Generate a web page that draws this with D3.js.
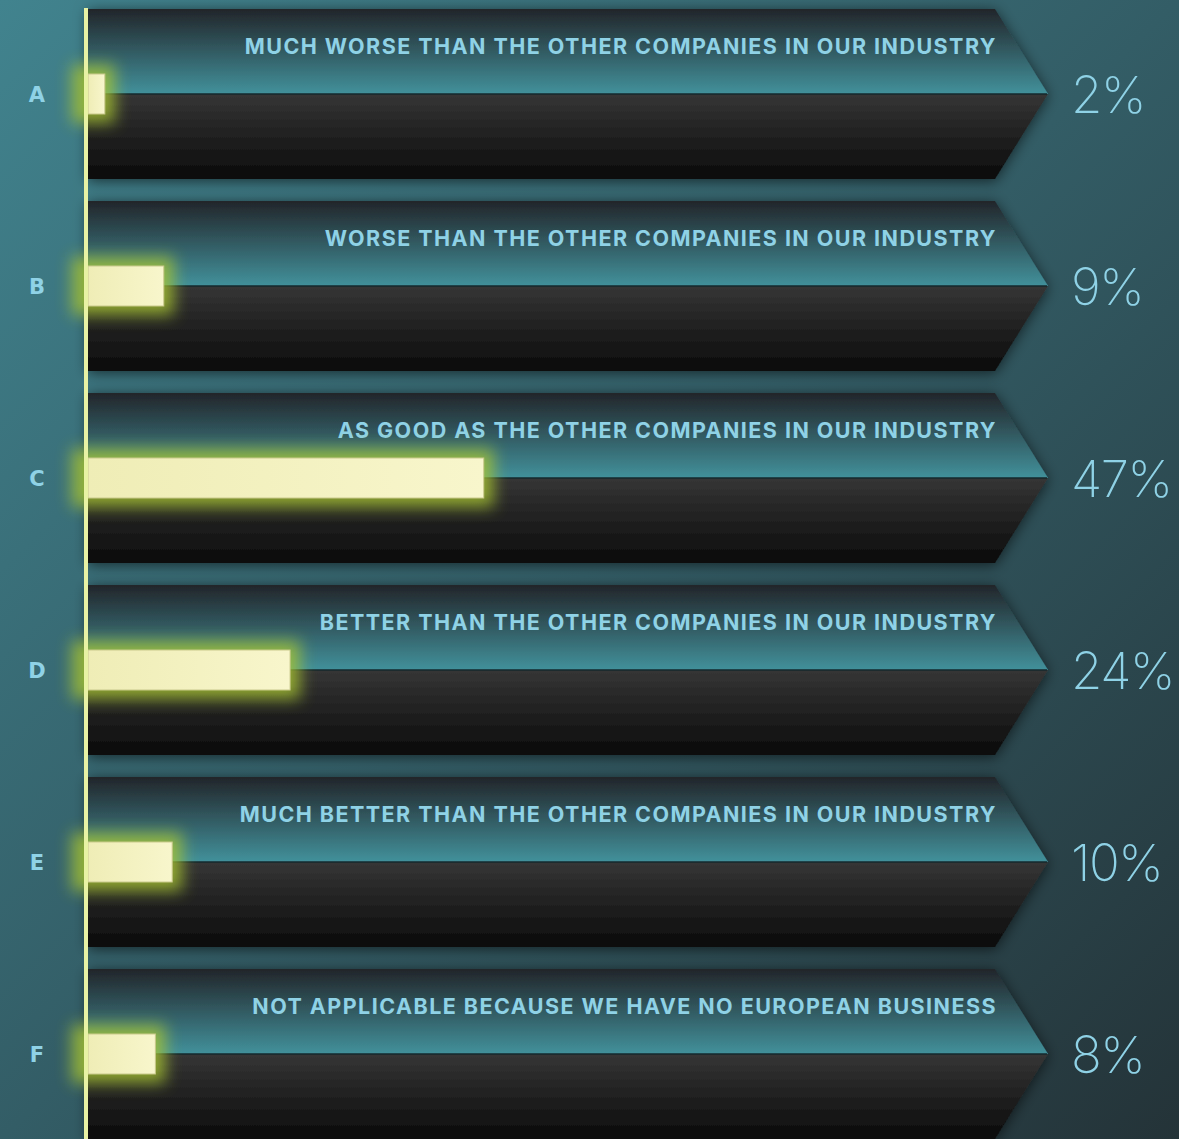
<!DOCTYPE html>
<html><head><meta charset="utf-8">
<script src="https://cdn.jsdelivr.net/npm/d3@7"></script>
<style>
html,body{margin:0;padding:0;background:#2c4d55;}
svg{display:block;}
</style></head>
<body>
<script>
const letters = ["A","B","C","D","E","F"];
const categories = [
  "MUCH WORSE THAN THE OTHER COMPANIES IN OUR INDUSTRY",
  "WORSE THAN THE OTHER COMPANIES IN OUR INDUSTRY",
  "AS GOOD AS THE OTHER COMPANIES IN OUR INDUSTRY",
  "BETTER THAN THE OTHER COMPANIES IN OUR INDUSTRY",
  "MUCH BETTER THAN THE OTHER COMPANIES IN OUR INDUSTRY",
  "NOT APPLICABLE BECAUSE WE HAVE NO EUROPEAN BUSINESS"
];
const values = [2, 9, 47, 24, 10, 8];
const valueLabels = ["2%", "9%", "47%", "24%", "10%", "8%"];

const W = 1179, H = 1139;
const svg = d3.select("body").append("svg").attr("width", W).attr("height", H);
const defs = svg.append("defs");

const bg = defs.append("linearGradient").attr("id","bg").attr("x1","0").attr("y1","0").attr("x2","1").attr("y2","1");
bg.append("stop").attr("offset","0%").attr("stop-color","#41838e");
bg.append("stop").attr("offset","50%").attr("stop-color","#335d66");
bg.append("stop").attr("offset","100%").attr("stop-color","#243338");

const topG = defs.append("linearGradient").attr("id","topG").attr("x1","0").attr("y1","0").attr("x2","0").attr("y2","1");
topG.append("stop").attr("offset","0%").attr("stop-color","#22252a");
topG.append("stop").attr("offset","100%").attr("stop-color","#42919b");

const botG = defs.append("linearGradient").attr("id","botG").attr("x1","0").attr("y1","0").attr("x2","0").attr("y2","1");
botG.append("stop").attr("offset","0%").attr("stop-color","#353535");
botG.append("stop").attr("offset","100%").attr("stop-color","#0b0b0b");

const barG = defs.append("linearGradient").attr("id","barG").attr("x1","0").attr("y1","0").attr("x2","1").attr("y2","0");
barG.append("stop").attr("offset","0%").attr("stop-color","#efedb6");
barG.append("stop").attr("offset","100%").attr("stop-color","#f8f6cc");

const sh = defs.append("filter").attr("id","shadow").attr("x","-10%").attr("y","-30%").attr("width","120%").attr("height","160%");
sh.append("feDropShadow").attr("dx",0).attr("dy",2).attr("stdDeviation",7).attr("flood-color","#000").attr("flood-opacity",0.6);

const glow = defs.append("filter").attr("id","glow").attr("x","-100%").attr("y","-100%").attr("width","300%").attr("height","300%");
glow.append("feGaussianBlur").attr("stdDeviation",8);

svg.append("rect").attr("width",W).attr("height",H).attr("fill","url(#bg)");

const y = d3.scaleBand().domain(letters).range([9, 1139]).paddingInner(0.1146).paddingOuter(0);
const x = d3.scaleLinear().domain([0, 100]).range([88, 930]);
const xEnd = 995, xTip = 1048;

const rows = svg.selectAll("g.row").data(letters).join("g").attr("class","row");

rows.each(function(d, i) {
  const g = d3.select(this);
  const t = y(d), b = t + y.bandwidth(), m = (t + b) / 2;
  const shape = g.append("g").attr("filter","url(#shadow)");
  shape.append("path")
    .attr("d", `M${x(0)},${t}L${xEnd},${t}L${xTip},${m}L${x(0)},${m}Z`)
    .attr("fill","url(#topG)");
  shape.append("path")
    .attr("d", `M${x(0)},${m}L${xTip},${m}L${xEnd},${b}L${x(0)},${b}Z`)
    .attr("fill","url(#botG)");
  g.append("line").attr("x1",x(0)).attr("x2",xTip - 1).attr("y1",m).attr("y2",m)
    .attr("stroke","#14292d").attr("stroke-width",1.5);

  g.append("text").attr("x",997).attr("y",t+45)
    .attr("text-anchor","end")
    .attr("font-family","Inter, 'Open Sans', sans-serif")
    .attr("font-weight",700).attr("font-size",21.5)
    .attr("letter-spacing",1.45)
    .attr("fill","#8fd2e6").text(categories[i]);

  g.append("text").attr("x",1071).attr("y",m+19)
    .attr("font-family","Inter, Lato, sans-serif")
    .attr("font-weight",200).attr("font-size",51)
    .attr("letter-spacing",-1.5)
    .attr("fill","#8fd2e6").text(valueLabels[i]);

  g.append("text").attr("x",37).attr("y",m+8)
    .attr("text-anchor","middle")
    .attr("font-family","'DejaVu Sans', sans-serif")
    .attr("font-weight",700).attr("font-size",21)
    .attr("fill","#8fd2e6").text(d);

  const bh = 40;
  g.append("rect").attr("x",x(0)-16).attr("y",m-bh/2-9)
    .attr("width",x(values[i])-x(0)+26).attr("height",bh+18)
    .attr("fill","#a9c631").attr("opacity",0.8).attr("filter","url(#glow)");
  g.append("rect").attr("x",x(0)).attr("y",m-bh/2)
    .attr("width",x(values[i])-x(0)).attr("height",bh)
    .attr("fill","url(#barG)").attr("stroke","#c9c98c").attr("stroke-width",1);
});

svg.append("rect").attr("x",84).attr("y",8).attr("width",4).attr("height",H-8)
  .attr("fill","#e8f2a4");
</script>
</body></html>
